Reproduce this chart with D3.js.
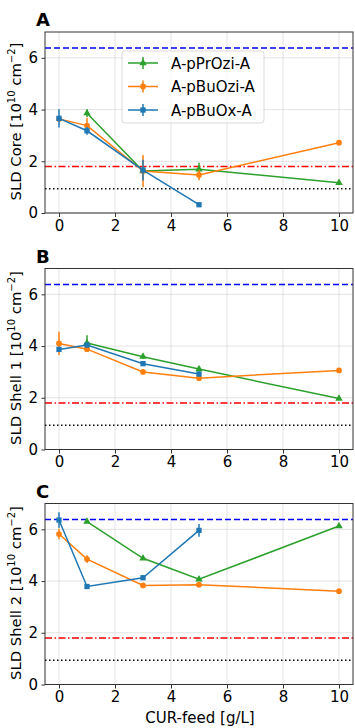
<!DOCTYPE html>
<html>
<head>
<meta charset="utf-8">
<script src="https://cdn.jsdelivr.net/npm/d3@7"></script>
<style>
  body { margin: 0; background: #fff; }
  text { font-family: "DejaVu Sans", sans-serif; fill: #000; }
</style>
</head>
<body>
<div id="chart"></div>
<script>
// CUR-feed values [g/L]
var feedX = [0, 1, 3, 5, 10];

var seriesNames = ["A-pPrOzi-A", "A-pBuOzi-A", "A-pBuOx-A"];
var seriesColors = ["#2ca02c", "#ff7f0e", "#1f77b4"];
var seriesMarkers = ["triangle", "circle", "square"];

// panel A : SLD core (null = not measured)
var coreGreen = [null, 3.86, 1.62, 1.69, 1.17];
var coreGreenErr = [0, 0.15, 0.1, 0.25, 0.05];
var coreOrange = [3.64, 3.38, 1.62, 1.47, 2.72];
var coreOrangeErr = [0.1, 0.3, 0.62, 0.2, 0.1];
var coreBlue = [3.66, 3.18, 1.66, 0.32, null];
var coreBlueErr = [0.35, 0.15, 0.4, 0.05, 0];

// panel B : SLD shell 1
var shell1Green = [null, 4.12, 3.59, 3.11, 1.97];
var shell1GreenErr = [0, 0.3, 0.08, 0.08, 0.05];
var shell1Orange = [4.1, 3.88, 3.0, 2.76, 3.06];
var shell1OrangeErr = [0.45, 0.08, 0.08, 0.05, 0.05];
var shell1Blue = [3.87, 4.04, 3.32, 2.92, null];
var shell1BlueErr = [0.1, 0.1, 0.08, 0.1, 0];

// panel C : SLD shell 2
var shell2Green = [null, 6.3, 4.88, 4.07, 6.13];
var shell2GreenErr = [0, 0.05, 0.05, 0.05, 0.05];
var shell2Orange = [5.82, 4.85, 3.83, 3.86, 3.61];
var shell2OrangeErr = [0.2, 0.15, 0.05, 0.05, 0.05];
var shell2Blue = [6.36, 3.79, 4.13, 5.96, null];
var shell2BlueErr = [0.3, 0.05, 0.05, 0.25, 0];

// reference SLD levels
var refLevels = [6.38, 1.8, 0.94];
var refColors = ["#0000ff", "#ff0000", "#000000"];
var refDash = ["6,3", "7,2.5,1.5,2.5", "1.5,2.5"];

var xTicks = [0, 2, 4, 6, 8, 10];
var yTicks = [0, 2, 4, 6];

var panels = [
  { letter: "A", label: "SLD Core", series: [[coreGreen, coreGreenErr], [coreOrange, coreOrangeErr], [coreBlue, coreBlueErr]], top: 32, legend: true },
  { letter: "B", label: "SLD Shell 1", series: [[shell1Green, shell1GreenErr], [shell1Orange, shell1OrangeErr], [shell1Blue, shell1BlueErr]], top: 268.5, legend: false },
  { letter: "C", label: "SLD Shell 2", series: [[shell2Green, shell2GreenErr], [shell2Orange, shell2OrangeErr], [shell2Blue, shell2BlueErr]], top: 503.5, legend: false }
];

var width = 355, height = 728;
var left = 45, right = 353, panelH = 181;

var svg = d3.select("#chart").append("svg")
  .attr("width", width)
  .attr("height", height);

var xScale = d3.scaleLinear().domain([-0.5, 10.5]).range([left, right]);

function markerPath(type) {
  if (type === "triangle") return d3.symbol().type(d3.symbolTriangle).size(24)();
  if (type === "square") return d3.symbol().type(d3.symbolSquare).size(28)();
  return d3.symbol().type(d3.symbolCircle).size(26)();
}

panels.forEach(function(p, pi) {
  var yScale = d3.scaleLinear().domain([0, 7]).range([p.top + panelH, p.top]);
  var g = svg.append("g");

  // grid
  g.selectAll(".gx").data(xTicks).enter().append("line")
    .attr("x1", d => xScale(d)).attr("x2", d => xScale(d))
    .attr("y1", p.top).attr("y2", p.top + panelH)
    .attr("stroke", "#dcdcdc").attr("stroke-width", 0.8);
  g.selectAll(".gy").data(yTicks).enter().append("line")
    .attr("x1", left).attr("x2", right)
    .attr("y1", d => yScale(d)).attr("y2", d => yScale(d))
    .attr("stroke", "#dcdcdc").attr("stroke-width", 0.8);

  // reference lines
  refLevels.forEach(function(v, i) {
    g.append("line")
      .attr("x1", left).attr("x2", right)
      .attr("y1", yScale(v)).attr("y2", yScale(v))
      .attr("stroke", refColors[i]).attr("stroke-width", 1.6)
      .attr("stroke-dasharray", refDash[i]);
  });

  // series
  p.series.forEach(function(s, si) {
    var vals = s[0], errs = s[1];
    var pts = feedX.map((x, i) => ({ x: x, y: vals[i], e: errs[i] })).filter(d => d.y !== null);
    var line = d3.line().x(d => xScale(d.x)).y(d => yScale(d.y));
    g.append("path").datum(pts)
      .attr("d", line).attr("fill", "none")
      .attr("stroke", seriesColors[si]).attr("stroke-width", 1.5);
    g.selectAll(".err" + si).data(pts).enter().append("line")
      .attr("x1", d => xScale(d.x)).attr("x2", d => xScale(d.x))
      .attr("y1", d => yScale(d.y - d.e)).attr("y2", d => yScale(d.y + d.e))
      .attr("stroke", seriesColors[si]).attr("stroke-width", 1.5);
    g.selectAll(".mk" + si).data(pts).enter().append("path")
      .attr("d", markerPath(seriesMarkers[si]))
      .attr("transform", d => "translate(" + xScale(d.x) + "," + yScale(d.y) + ")")
      .attr("fill", seriesColors[si]);
  });

  // axes
  var xAxis = d3.axisBottom(xScale).tickValues(xTicks).tickFormat(d3.format("d")).tickSize(4).tickPadding(3);
  var yAxis = d3.axisLeft(yScale).tickValues(yTicks).tickFormat(d3.format("d")).tickSize(3.5).tickPadding(3.5);
  var xg = g.append("g").attr("transform", "translate(0," + (p.top + panelH) + ")").call(xAxis);
  var yg = g.append("g").attr("transform", "translate(" + left + ",0)").call(yAxis);
  [xg, yg].forEach(function(a) {
    a.select(".domain").remove();
    a.selectAll("text").style("font-size", "15px").style("font-family", "DejaVu Sans");
    a.selectAll("line").attr("stroke", "#333");
  });

  // frame
  g.append("rect")
    .attr("x", left).attr("y", p.top)
    .attr("width", right - left).attr("height", panelH)
    .attr("fill", "none").attr("stroke", "#333").attr("stroke-width", 1);

  // panel letter
  g.append("text")
    .attr("x", 36).attr("y", p.top - 6)
    .style("font-size", "18px").style("font-weight", "bold")
    .text(p.letter);

  // y label
  var yl = g.append("text")
    .attr("transform", "translate(20.5," + (p.top + panelH / 2 - 1) + ") rotate(-90)")
    .attr("text-anchor", "middle")
    .style("font-size", "14.8px");
  yl.append("tspan").text(p.label + " [10");
  yl.append("tspan").attr("dy", -5.5).style("font-size", "10px").text("10");
  yl.append("tspan").attr("dy", 5.5).text(" cm");
  yl.append("tspan").attr("dy", -5.5).style("font-size", "10px").text("\u22122");
  yl.append("tspan").attr("dy", 5.5).text("]");

  if (p.legend) {
    var lg = g.append("g");
    lg.append("rect")
      .attr("x", 122).attr("y", 51).attr("width", 142).attr("height", 72)
      .attr("rx", 3).attr("fill", "#fff").attr("fill-opacity", 0.8)
      .attr("stroke", "#d0d0d0").attr("stroke-width", 0.8);
    seriesNames.forEach(function(name, i) {
      var ly = 63 + i * 23.5;
      lg.append("line").attr("x1", 128).attr("x2", 158).attr("y1", ly).attr("y2", ly)
        .attr("stroke", seriesColors[i]).attr("stroke-width", 1.5);
      lg.append("line").attr("x1", 143).attr("x2", 143).attr("y1", ly - 6).attr("y2", ly + 6)
        .attr("stroke", seriesColors[i]).attr("stroke-width", 1.5);
      lg.append("path").attr("d", markerPath(seriesMarkers[i]))
        .attr("transform", "translate(143," + ly + ")").attr("fill", seriesColors[i]);
      lg.append("text").attr("x", 171).attr("y", ly + 5.5)
        .style("font-size", "15px").text(name);
    });
  }
});

svg.append("text")
  .attr("x", (left + right) / 2 + 1).attr("y", 723)
  .attr("text-anchor", "middle")
  .style("font-size", "15px")
  .text("CUR-feed [g/L]");
</script>
</body>
</html>
